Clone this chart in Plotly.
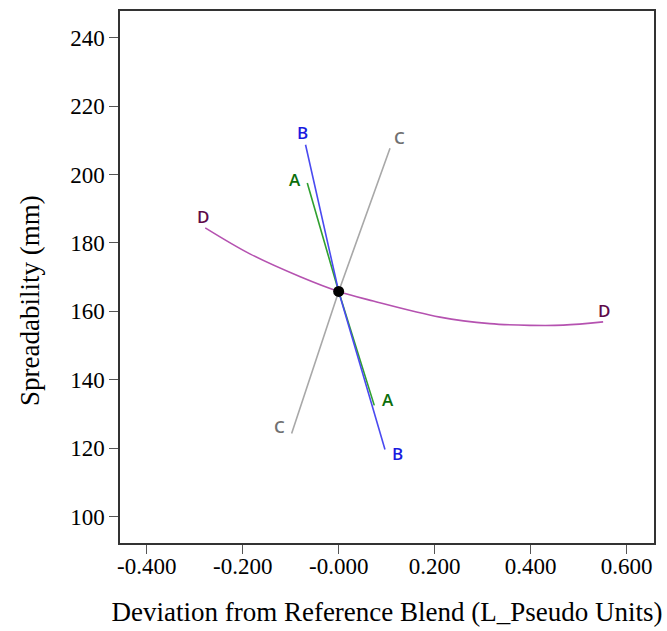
import plotly.graph_objects as go

# ---- data ----
a_x = [-0.0654, 0.0, 0.0742]
a_y = [197.5, 165.8, 132.5]
b_x = [-0.069, 0.0, 0.0965]
b_y = [208.7, 165.8, 119.6]
c_x = [0.107, 0.0, -0.098]
c_y = [207.7, 165.8, 124.3]
d_x = [-0.278, -0.185, -0.08, 0.0, 0.072, 0.211, 0.315, 0.398, 0.468, 0.551]
d_y = [184.4, 176.8, 170.1, 165.8, 163.0, 158.3, 156.4, 155.9, 155.95, 156.9]
ref_x = [0.0]
ref_y = [165.8]

x_tickvals = [-0.4, -0.2, 0.0, 0.2, 0.4, 0.6]
x_ticktext = ["-0.400", "-0.200", "-0.000", "0.200", "0.400", "0.600"]
y_tickvals = [100, 120, 140, 160, 180, 200, 220, 240]

series = [
    ("A", a_x, a_y, "#30a030", "#0a6e0a", (-12, 4), (14, 6)),
    ("B", b_x, b_y, "#4a4af0", "#1a1ae0", (-3, 12), (13, -4)),
    ("C", c_x, c_y, "#a8a8a8", "#707070", (9, 11), (-12, 7)),
    ("D", d_x, d_y, "#b552b0", "#5e0a4a", (-2, 11), (1, 11)),
]

fig = go.Figure()
annotations = []
for name, xs, ys, lc, tc, s0, s1 in series:
    fig.add_trace(go.Scatter(x=xs, y=ys, mode="lines",
                             line=dict(color=lc, width=1.6,
                                       shape="spline" if len(xs) > 3 else "linear",
                                       smoothing=1.0),
                             showlegend=False, hoverinfo="skip"))
    for (px, py), (dx, dy) in (((xs[0], ys[0]), s0), ((xs[-1], ys[-1]), s1)):
        annotations.append(dict(x=px, y=py, xref="x", yref="y", text=name,
                                showarrow=False, xshift=dx, yshift=dy,
                                font=dict(family="Open Sans", size=17, color=tc,
                                          weight=600)))

fig.add_trace(go.Scatter(x=ref_x, y=ref_y, mode="markers",
                         marker=dict(color="black", size=11),
                         showlegend=False, hoverinfo="skip"))

annotations.append(dict(x=-0.1685, y=0.455, xref="paper", yref="paper",
                        text="Spreadability (mm)", textangle=-90, showarrow=False,
                        xanchor="center", yanchor="middle",
                        font=dict(family="Liberation Serif", size=27, color="black")))

fig.update_layout(
    width=667, height=631,
    margin=dict(l=120, r=13, t=9, b=88),
    paper_bgcolor="white", plot_bgcolor="white",
    annotations=annotations,
    xaxis=dict(range=[-0.4556, 0.657], tickvals=x_tickvals, ticktext=x_ticktext,
               showgrid=False, zeroline=False, showline=True, mirror=True,
               linecolor="#333333", linewidth=1.5, ticks="outside", ticklen=9,
               tickcolor="#555555", tickwidth=1.3, ticklabelstandoff=-7,
               tickfont=dict(family="Liberation Serif", size=23, color="black"),
               title=dict(text="Deviation from Reference Blend (L_Pseudo Units)",
                          font=dict(family="Liberation Serif", size=27, color="black"),
                          standoff=24)),
    yaxis=dict(range=[92.26, 247.8], tickvals=y_tickvals,
               showgrid=False, zeroline=False, showline=True, mirror=True,
               linecolor="#333333", linewidth=1.5, ticks="outside", ticklen=9,
               tickcolor="#555555", tickwidth=1.3,
               tickfont=dict(family="Liberation Serif", size=23, color="black")),
)

fig.write_html("out.html")
